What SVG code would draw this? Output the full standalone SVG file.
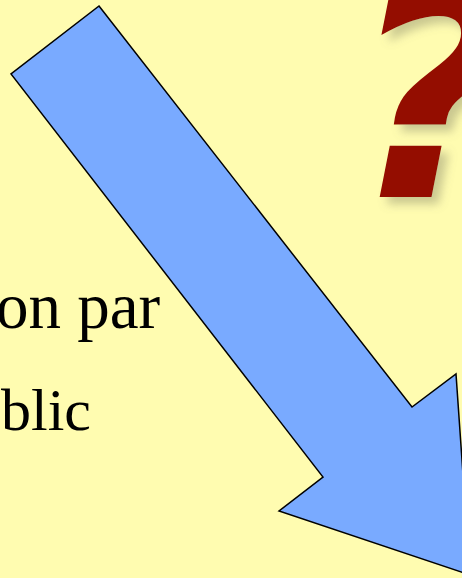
<svg xmlns="http://www.w3.org/2000/svg" width="462" height="578" viewBox="0 0 462 578">
<defs>
<style>
.txt{font-family:"Liberation Serif","Times New Roman",serif;fill:#000}
.q{font-family:"DejaVu Sans",sans-serif;font-weight:bold;font-style:italic;font-size:295px;fill:#941100}
</style>
<filter id="sh" x="-20%" y="-20%" width="150%" height="150%">
<feDropShadow dx="7" dy="7" stdDeviation="5" flood-color="#7a7a60" flood-opacity="0.4"/>
</filter>
</defs>
<rect width="462" height="578" fill="#FFFCB0"/>
<g id="text">
<text class="txt" x="-4" y="328" font-size="65">on par</text>
<text class="txt" x="1" y="430" font-size="60">blic</text>
</g>
<g id="question">
<text class="q" x="349" y="197" filter="url(#sh)">?</text>
</g>
<g id="arrow">
<polygon points="99,6 412,407 456,374 470,575 279,511 323,477 11,74" fill="#79AAFF" stroke="#000" stroke-width="1.5" stroke-linejoin="miter"/>
</g>
</svg>
